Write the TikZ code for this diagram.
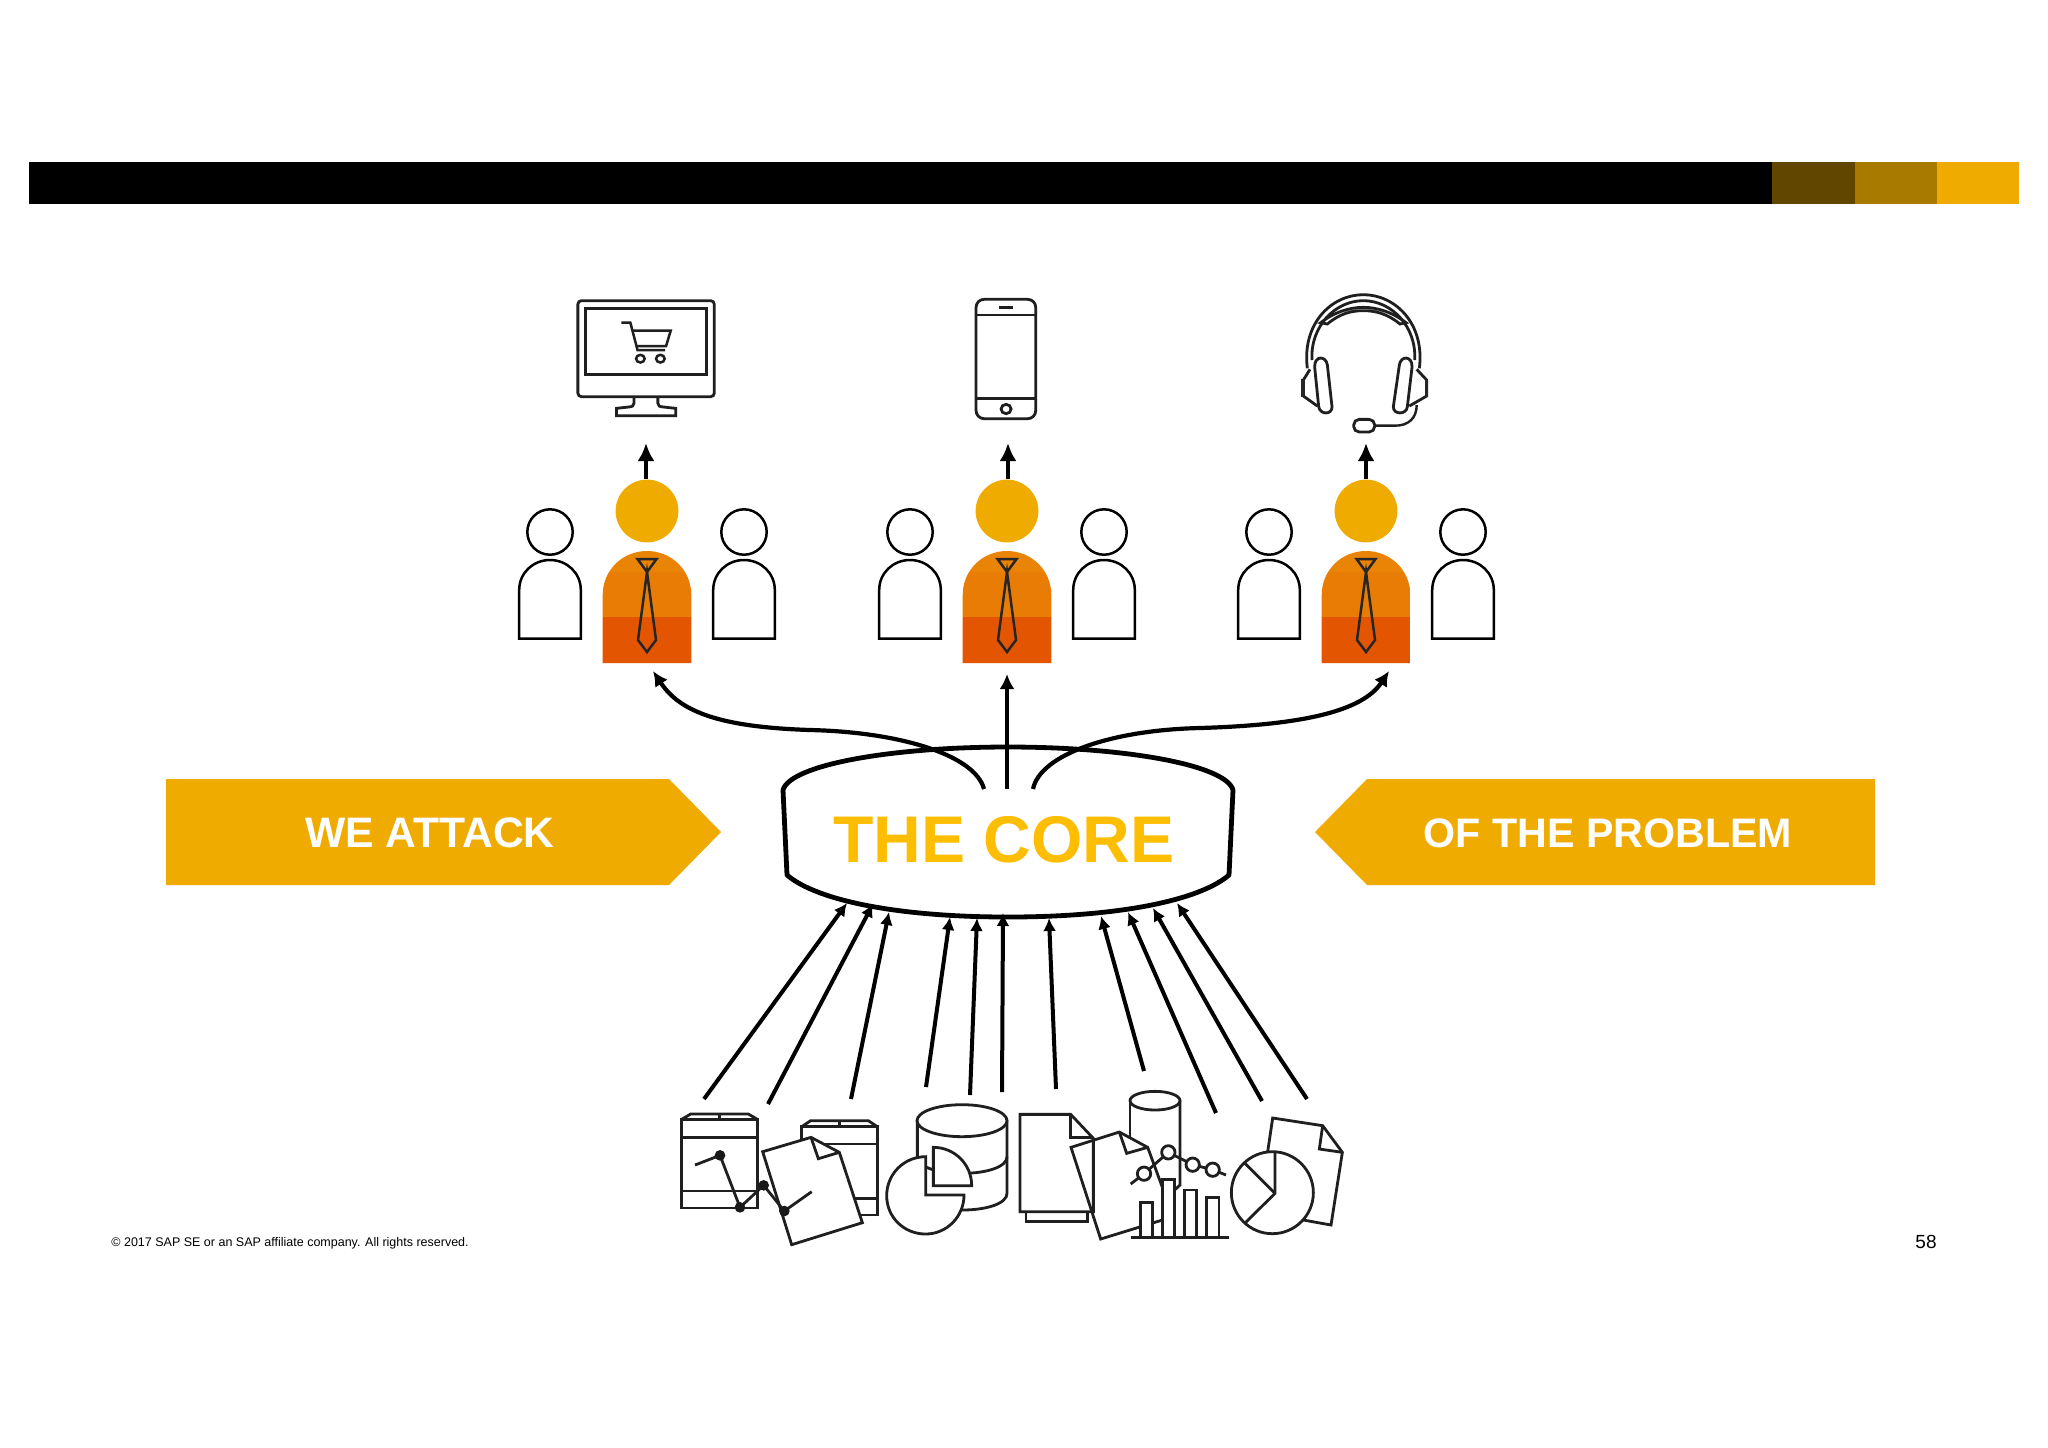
\documentclass[tikz,border=0pt]{standalone}
\usepackage{fontspec}
\setmainfont{Liberation Sans}
\usetikzlibrary{arrows.meta,calc}
\definecolor{sapgold}{HTML}{F0AB00}
\definecolor{coregold}{HTML}{FDBD00}
\definecolor{barA}{HTML}{614600}
\definecolor{barB}{HTML}{A97A00}
\definecolor{bodyA}{HTML}{EA8406}
\definecolor{bodyB}{HTML}{E87C04}
\definecolor{bodyC}{HTML}{E35500}
\tikzset{
  icon/.style={draw=black!88,line width=1.4pt,line join=miter},
  iconw/.style={icon,fill=white},
  thinicon/.style={draw=black,line width=1.25pt},
  flow/.style={draw=black,line width=2.1pt,-{Latex[length=7.5pt,width=7.5pt]}},
  upflow/.style={draw=black,line width=2.4pt,-{Latex[length=9pt,width=8.5pt]}},
  srcflow/.style={draw=black,line width=2pt,-{Latex[length=6.5pt,width=6.5pt]}},
  banner/.style={fill=sapgold,draw=none},
  bannertext/.style={text=white,font=\bfseries\fontsize{21.3}{24}\selectfont,anchor=center,inner sep=0pt},
  zoomA/.style={shift={(500,270)},x=0.17857pt,y=-0.16667pt},
  zoomB/.style={shift={(660,1080)},x=0.16667pt,y=-0.16667pt},
  zoomC/.style={shift={(1000,1080)},x=0.16667pt,y=-0.16667pt},
  zoomD/.style={shift={(1200,280)},x=0.16667pt,y=-0.16667pt},
}
\newcommand{\sidefig}[1]{%
  \draw[thinicon] (#1,532) circle[radius=22.7];
  \draw[thinicon] (#1-30.8,638.5) -- (#1-30.8,590)
    .. controls (#1-30.8,573) and (#1-17,560) .. (#1,560)
    .. controls (#1+17,560) and (#1+30.8,573) .. (#1+30.8,590) -- (#1+30.8,638.5) -- cycle;
}
\newcommand{\personfig}[1]{%
  \sidefig{#1-97}\sidefig{#1+97}
  \fill[sapgold] (#1,511) circle[radius=31.4];
  \begin{scope}
    \clip (#1-44.3,663) -- (#1-44.3,595)
      .. controls (#1-44.3,570) and (#1-24.4,551) .. (#1,551)
      .. controls (#1+24.4,551) and (#1+44.3,570) .. (#1+44.3,595) -- (#1+44.3,663) -- cycle;
    \fill[bodyA] (#1-45,550) rectangle (#1+45,572);
    \fill[bodyB] (#1-45,572) rectangle (#1+45,617);
    \fill[bodyC] (#1-45,617) rectangle (#1+45,664);
  \end{scope}
  \draw[draw=black!85,line width=1.25pt,line join=miter] (#1-9.5,559) -- (#1+9.5,559) -- (#1,572) -- cycle;
  \draw[draw=black!85,line width=1.25pt,line join=miter] (#1,572) -- (#1+9,640) -- (#1,652) -- (#1-9,640) -- cycle;
}
\begin{document}
\begin{tikzpicture}[x=0.5pt,y=-0.5pt]
\useasboundingbox (0,0) rectangle (2048,1447);
\fill[white] (0,0) rectangle (2048,1447);
% top bar
\fill[black] (29,162) rectangle (1772,204);
\fill[barA] (1772,162) rectangle (1855,204);
\fill[barB] (1855,162) rectangle (1937,204);
\fill[sapgold] (1937,162) rectangle (2019,204);
% people
\personfig{647}
\personfig{1007}
\personfig{1366}
% monitor
\begin{scope}[zoomA]
  \draw[icon,rounded corners=1.8pt] (218,92) rectangle (600,380);
  \draw[icon] (240,116) rectangle (578,314);
  \draw[icon] (375,380) -- (375,400) .. controls (375,408) and (370,410) .. (360,411) -- (326,415) -- (326,437) -- (492,437) -- (492,415) -- (458,411) .. controls (447,410) and (442,408) .. (442,400) -- (442,380);
  \draw[icon,line width=1.25pt] (340,158) -- (365,158) -- (385,240) -- (462,240);
  \draw[icon,line width=1.25pt] (370,182) -- (478,182) -- (465,228) -- (382,228);
  \draw[icon,line width=1.25pt] (393,266) circle[x radius=12,y radius=11.5];
  \draw[icon,line width=1.25pt] (449,266) circle[x radius=12,y radius=11.5];
  % phone
  \draw[icon,rounded corners=4pt] (1333,88) rectangle (1500,446);
  \draw[icon] (1333,135) -- (1500,135);
  \draw[icon] (1333,385) -- (1500,385);
  \draw[icon] (1398,112) -- (1436,112);
  \draw[icon] (1417,417) circle[x radius=14,y radius=14];
\end{scope}
% headset
\begin{scope}[zoomD]
  \draw[icon] (322,265) .. controls (305,130) and (395,44) .. (490,44) .. controls (585,44) and (675,130) .. (658,265);
  \draw[icon] (336,240) .. controls (330,140) and (405,62) .. (490,62) .. controls (575,62) and (650,140) .. (644,240);
  \draw[icon] (362,128) .. controls (405,95) and (450,82) .. (490,82) .. controls (530,82) and (575,95) .. (618,128) -- (600,132) .. controls (560,100) and (525,92) .. (490,92) .. controls (455,92) and (420,100) .. (382,132) -- cycle;
  \draw[icon] (344,262) .. controls (342,226) and (378,226) .. (382,255) -- (396,380) .. controls (397,405) and (360,405) .. (356,380) -- cycle;
  \draw[icon] (636,262) .. controls (638,226) and (602,226) .. (598,255) -- (580,380) .. controls (579,405) and (620,405) .. (622,380) -- cycle;
  \draw[icon] (330,268) -- (310,300) -- (310,348) -- (352,378);
  \draw[icon] (650,268) -- (680,300) -- (680,348) -- (628,378);
  \fill[black!85] (304,298) rectangle (314,350);
  \fill[black!85] (674,298) rectangle (684,350);
  \draw[icon,rounded corners=2.8pt] (461,418) rectangle (524,456);
  \draw[icon,line width=1.2pt] (524,437) -- (585,437) .. controls (625,437) and (650,415) .. (650,375);
\end{scope}
% up arrows
\coordinate (upAs) at (646,479); \coordinate (upAe) at (646,443);
\coordinate (upBs) at (1008,479); \coordinate (upBe) at (1008,443);
\coordinate (upCs) at (1366,479); \coordinate (upCe) at (1366,443);
\draw[upflow] (upAs) -- (upAe);
\draw[upflow] (upBs) -- (upBe);
\draw[upflow] (upCs) -- (upCe);
% banners
\fill[banner] (166,779) -- (669,779) -- (721,832) -- (669,885) -- (166,885) -- cycle;
\fill[banner] (1875,779) -- (1367,779) -- (1315,832) -- (1367,885) -- (1875,885) -- cycle;
\node[bannertext] (attack) at (430,833) {WE ATTACK};
\node[bannertext,font=\bfseries\fontsize{20.6}{24}\selectfont] (problem) at (1608,833) {OF THE PROBLEM};
% core
\draw[draw=black,line width=2.4pt,line join=round] (783,790)
  .. controls (790,765) and (890,747) .. (1008,747)
  .. controls (1126,747) and (1226,765) .. (1233,790)
  -- (1229,875)
  .. controls (1200,900) and (1120,917) .. (1008,917)
  .. controls (896,917) and (816,900) .. (787,875) -- cycle;
\node[text=coregold,font=\bfseries\fontsize{33}{36}\selectfont,inner sep=0pt] (core) at (1004,839.5) {THE CORE};
% curved arrows
\coordinate (cL) at (984,789); \coordinate (cM) at (1007,789); \coordinate (cR) at (1033,789);
\coordinate (tL) at (653,671); \coordinate (tM) at (1007,674); \coordinate (tR) at (1389,671);
\draw[flow] (cL) .. controls (975,755) and (900,732) .. (810,730) .. controls (720,727) and (680,712) .. (tL);
\draw[flow] (cM) -- (tM);
\draw[flow] (cR) .. controls (1040,755) and (1110,730) .. (1200,728) .. controls (1300,725) and (1362,712) .. (tR);
% source arrows
\foreach \n/\sx/\sy/\tx/\ty in {a/704/1099/847/903,b/768/1104/873/904,c/851/1099/889/912,d/926/1087/950/917,e/970/1095/977/918,f/1002/1092/1003/913,g/1056/1089/1049/918,h/1144/1071/1101/916,i/1216/1113/1128/912,j/1262/1101/1153/908,k/1307/1099/1177/903}{
  \coordinate (s\n) at (\sx,\sy);
  \coordinate (e\n) at (\tx,\ty);
  \draw[srcflow] (s\n) -- (e\n);
}
% left icon cluster
\begin{scope}[zoomB]
  % server 1
  \draw[icon] (65,118) rectangle (292,384);
  \draw[icon] (65,118) -- (92,102) -- (265,102) -- (292,118);
  \draw[icon] (178,102) -- (178,118);
  \draw[icon] (65,172) -- (292,172);
  \draw[icon] (65,333) -- (292,333);
  % server 2
  \draw[icon] (425,140) rectangle (652,405);
  \draw[icon] (425,140) -- (452,122) -- (625,122) -- (652,140);
  \draw[icon] (538,122) -- (538,140);
  \draw[icon] (425,192) -- (652,192);
  \draw[icon] (425,355) -- (652,355);
  % document
  \draw[iconw] (308,215) -- (453,172) -- (538,217) -- (607,428) -- (395,494) -- cycle;
  \draw[icon] (453,172) -- (475,236) -- (538,217);
  % line chart
  \draw[icon] (105,255) -- (180,226) -- (240,382) -- (311,316) -- (373,393) -- (455,335);
  \fill[black!90] (180,226) circle[radius=16];
  \fill[black!90] (240,382) circle[radius=16];
  \fill[black!90] (311,316) circle[radius=16];
  \fill[black!90] (373,393) circle[radius=16];
  % database
  \draw[iconw] (772,122) -- (772,340) .. controls (772,370) and (830,390) .. (906,390) .. controls (982,390) and (1041,370) .. (1041,340) -- (1041,122);
  \draw[iconw] (906,122) ellipse[x radius=135,y radius=48];
  \draw[icon] (772,230) .. controls (772,260) and (830,280) .. (906,280) .. controls (982,280) and (1041,260) .. (1041,230);
  % pies
  \draw[iconw] (797,230) .. controls (732,230) and (680,282) .. (680,347) .. controls (680,412) and (732,462) .. (797,462) .. controls (860,462) and (912,410) .. (912,345) -- (797,345) -- cycle;
  \draw[iconw] (820,202) .. controls (884,202) and (935,253) .. (935,317) -- (820,317) -- cycle;
\end{scope}
% right icon cluster
\begin{scope}[zoomC]
  % cylinder
  \draw[icon] (390,62) -- (390,178);
  \draw[icon] (540,62) -- (540,315) -- (526,328);
  \draw[icon] (465,62) ellipse[x radius=75,y radius=28];
  % doc A
  \draw[icon] (78,395) -- (78,425) -- (262,425) -- (262,395);
  \draw[icon] (60,103) -- (212,103) -- (280,175) -- (280,395) -- (60,395) -- cycle;
  \draw[icon] (212,103) -- (212,172) -- (280,172);
  % doc B
  \draw[icon] (487,420) -- (302,477) -- (213,202) -- (358,156) -- (443,202) -- (490,330);
  \draw[icon] (358,156) -- (380,220) -- (443,202);
  % bars
  \draw[iconw] (422,472) -- (422,368) -- (458,368) -- (458,472);
  \draw[iconw] (488,472) -- (488,298) -- (524,298) -- (524,472);
  \draw[iconw] (553,472) -- (553,330) -- (590,330) -- (590,472);
  \draw[iconw] (620,472) -- (620,352) -- (657,352) -- (657,472);
  \draw[icon] (392,472) -- (688,472);
  % line chart
  \draw[icon] (392,312) -- (432,281) -- (505,217) -- (578,254) -- (638,269) -- (678,285);
  \draw[iconw] (432,281) circle[radius=20];
  \draw[iconw] (505,217) circle[radius=20];
  \draw[iconw] (578,254) circle[radius=20];
  \draw[iconw] (638,269) circle[radius=20];
  % doc C
  \draw[iconw] (803,215) -- (818,114) -- (968,137) -- (1027,217) -- (993,435) -- (910,420);
  \draw[icon] (968,137) -- (958,207) -- (1027,217);
  % pie
  \draw[iconw] (817,338) circle[radius=123];
  \draw[icon] (825,218) -- (825,340) -- (737,427);
  \draw[icon] (825,340) -- (735,250);
\end{scope}
% footer
\node[anchor=west,inner sep=0pt,font=\fontsize{6.25}{8}\selectfont] (copy) at (111,1243) {© 2017 SAP SE or an SAP affiliate company. All rights reserved.};
\node[anchor=center,inner sep=0pt,font=\fontsize{9.5}{11}\selectfont] (page) at (1926,1242) {58};
\end{tikzpicture}
\end{document}
